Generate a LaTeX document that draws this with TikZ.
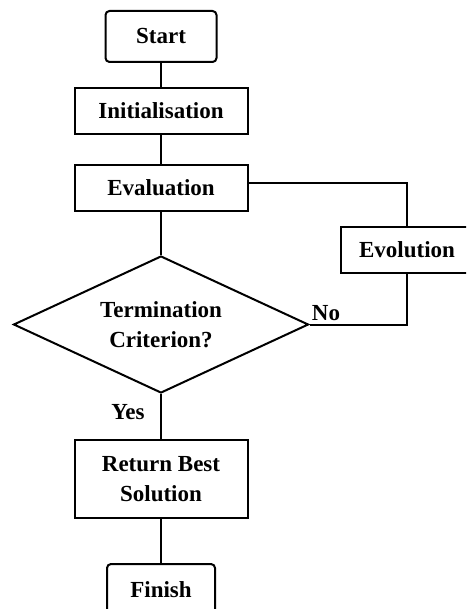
\documentclass[tikz,border=0pt]{standalone}
\usepackage{fontspec}
\setmainfont{Liberation Serif}
\usetikzlibrary{shapes.geometric}
\begin{document}
\begin{tikzpicture}[x=1pt,y=-1pt,
  lbl/.style={font=\bfseries\fontsize{23}{30}\selectfont},
  box/.style={draw,line width=2pt,inner sep=0pt,lbl,align=center},
  term/.style={box,rounded corners=4pt},
  dec/.style={draw,line width=2pt,diamond,aspect=2.153,inner sep=0pt,lbl,align=center},
  conn/.style={line width=2pt}]
\useasboundingbox (0,0) rectangle (466,609);
\clip (0,0) rectangle (466,609);
\node[term,minimum width=111pt,minimum height=51pt] (start) at (161,36.5) {Start};
\node[box,minimum width=173pt,minimum height=46pt] (init) at (161,111) {Initialisation};
\node[box,minimum width=173pt,minimum height=46pt] (eval) at (161,188) {Evaluation};
\node[box,minimum width=132pt,minimum height=46pt] (evol) at (407,250) {Evolution};
\node[dec,minimum width=295pt,minimum height=137pt] (crit) at (161,324.5) {Termination\\Criterion?};
\node[box,minimum width=173pt,minimum height=78pt] (ret) at (161,479) {Return Best\\Solution};
\node[term,minimum width=108pt,minimum height=52pt] (fin) at (161,590) {Finish};
\node[lbl] (no) at (326,313) {No};
\node[lbl] (yes) at (128,412) {Yes};
\coordinate (c1) at (407,183);
\coordinate (c2) at (407,324.5);
\draw[conn] (start) -- (init);
\draw[conn] (init) -- (eval);
\draw[conn] (eval) -- (crit);
\draw[conn] (eval.east |- c1) -- (c1) -- (evol.north);
\draw[conn] (crit.east) -- (c2) -- (evol.south);
\draw[conn] (crit) -- (ret);
\draw[conn] (ret) -- (fin);
\end{tikzpicture}
\end{document}
